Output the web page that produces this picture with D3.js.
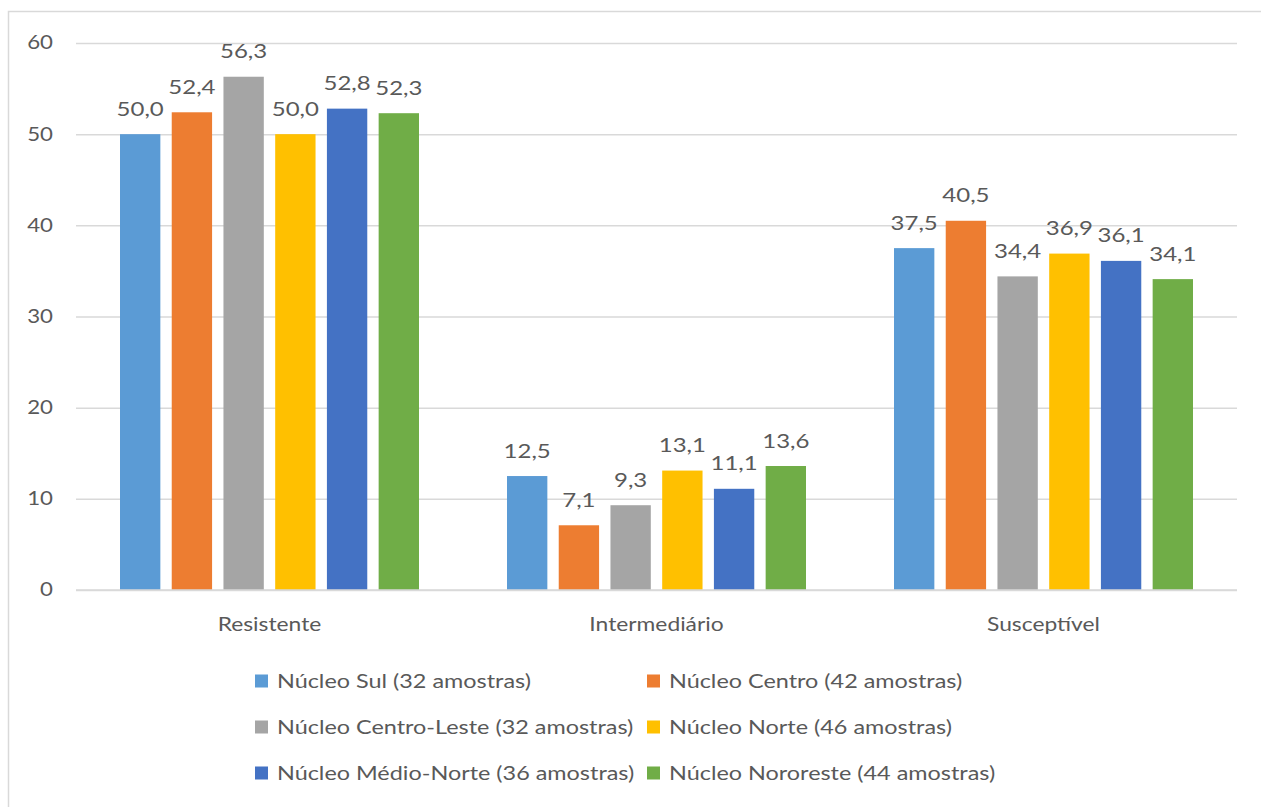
<!DOCTYPE html>
<html><head><meta charset="utf-8">
<script src="https://cdn.jsdelivr.net/npm/d3@7"></script>
<style>body{margin:0;background:#fff}svg{display:block}text{font-family:Lato,"Open Sans",sans-serif;fill:#595959}</style>
</head><body>
<svg id="c" width="1261" height="807"></svg>
<script>
const categories = ["Resistente", "Intermediário", "Susceptível"];
const seriesNames = ["Núcleo Sul (32 amostras)", "Núcleo Centro (42 amostras)", "Núcleo Centro-Leste (32 amostras)", "Núcleo Norte (46 amostras)", "Núcleo Médio-Norte (36 amostras)", "Núcleo Nororeste (44 amostras)"];
const sul = [50.0, 12.5, 37.5];
const centro = [52.4, 7.1, 40.5];
const centroLeste = [56.3, 9.3, 34.4];
const norte = [50.0, 13.1, 36.9];
const medioNorte = [52.8, 11.1, 36.1];
const nororeste = [52.3, 13.6, 34.1];
const yTicks = [0, 10, 20, 30, 40, 50, 60];
const colors = ["#5b9bd5", "#ed7d31", "#a5a5a5", "#ffc000", "#4472c4", "#70ad47"];
const seriesValues = [sul, centro, centroLeste, norte, medioNorte, nororeste];

const svg = d3.select("#c");
svg.append("rect").attr("x", 8.5).attr("y", 11.5).attr("width", 1270).attr("height", 820)
  .attr("fill", "none").attr("stroke", "#d9d9d9").attr("stroke-width", 1.5);

const mLeft = 76, mRight = 1237, mTop = 43, mBottom = 590;
const y = d3.scaleLinear().domain([0, 60]).range([mBottom, mTop]);
const x0 = d3.scaleBand().domain(categories).range([mLeft, mRight]).paddingInner(0.2274).paddingOuter(0.1137);
const x1 = d3.scaleBand().domain(d3.range(seriesNames.length)).range([0, x0.bandwidth()]).paddingInner(0.22);

// grid
const yAxis = d3.axisLeft(y).tickValues(yTicks).tickSize(-(mRight - mLeft)).tickFormat(d3.format("d")).tickPadding(23);
const ga = svg.append("g").attr("transform", `translate(${mLeft},0)`).call(yAxis);
ga.select(".domain").remove();
ga.selectAll(".tick line").attr("stroke", "#d9d9d9").attr("stroke-width", 1.5);
ga.selectAll(".tick text").attr("font-size", 18.5).style("fill", "#595959").attr("font-family", "Lato");

// bars
const groups = svg.append("g").selectAll("g").data(categories).join("g")
  .attr("transform", d => `translate(${x0(d)},0)`);
groups.each(function(cat, ci) {
  const g = d3.select(this);
  const data = seriesValues.map((vals, si) => ({si, v: vals[ci]}));
  g.selectAll("rect").data(data).join("rect")
    .attr("x", d => x1(d.si)).attr("width", x1.bandwidth())
    .attr("y", d => y(d.v)).attr("height", d => y(0) - y(d.v))
    .attr("fill", d => colors[d.si]);
  g.selectAll("text").data(data).join("text")
    .attr("x", d => x1(d.si) + x1.bandwidth() / 2).attr("y", d => y(d.v) - 18.5)
    .attr("text-anchor", "middle").attr("font-size", 20)
    .text(d => d.v.toFixed(1).replace(".", ","));
});

// x axis line
svg.append("line").attr("x1", mLeft).attr("x2", mRight).attr("y1", y(0)).attr("y2", y(0))
  .attr("stroke", "#d9d9d9").attr("stroke-width", 1.5);
const xAxis = d3.axisBottom(x0).tickSize(0).tickPadding(27);
const gx = svg.append("g").attr("transform", `translate(0,${mBottom})`).call(xAxis);
gx.select(".domain").remove();
gx.selectAll(".tick text").attr("font-size", 19).style("fill", "#595959").attr("font-family", "Lato").attr("dy", "0").attr("y", 41);

// legend
const legCols = [255, 647], legRows = [681, 727, 773];
const leg = svg.append("g").selectAll("g").data(seriesNames).join("g")
  .attr("transform", (d, i) => `translate(${legCols[i % 2]},${legRows[Math.floor(i / 2)]})`);
leg.append("rect").attr("x", 0).attr("y", -6.5).attr("width", 13).attr("height", 13).attr("fill", (d, i) => colors[i]);
leg.append("text").attr("x", 22).attr("y", 0).attr("dy", "0.36em").attr("font-size", 19.5).text(d => d);

// horizontal widening of all text to match the reference proportions
svg.selectAll("text").each(function() {
  const w = this.getComputedTextLength();
  this.setAttribute("textLength", (w * 1.2).toFixed(1));
  this.setAttribute("lengthAdjust", "spacingAndGlyphs");
});
</script>
</body></html>
